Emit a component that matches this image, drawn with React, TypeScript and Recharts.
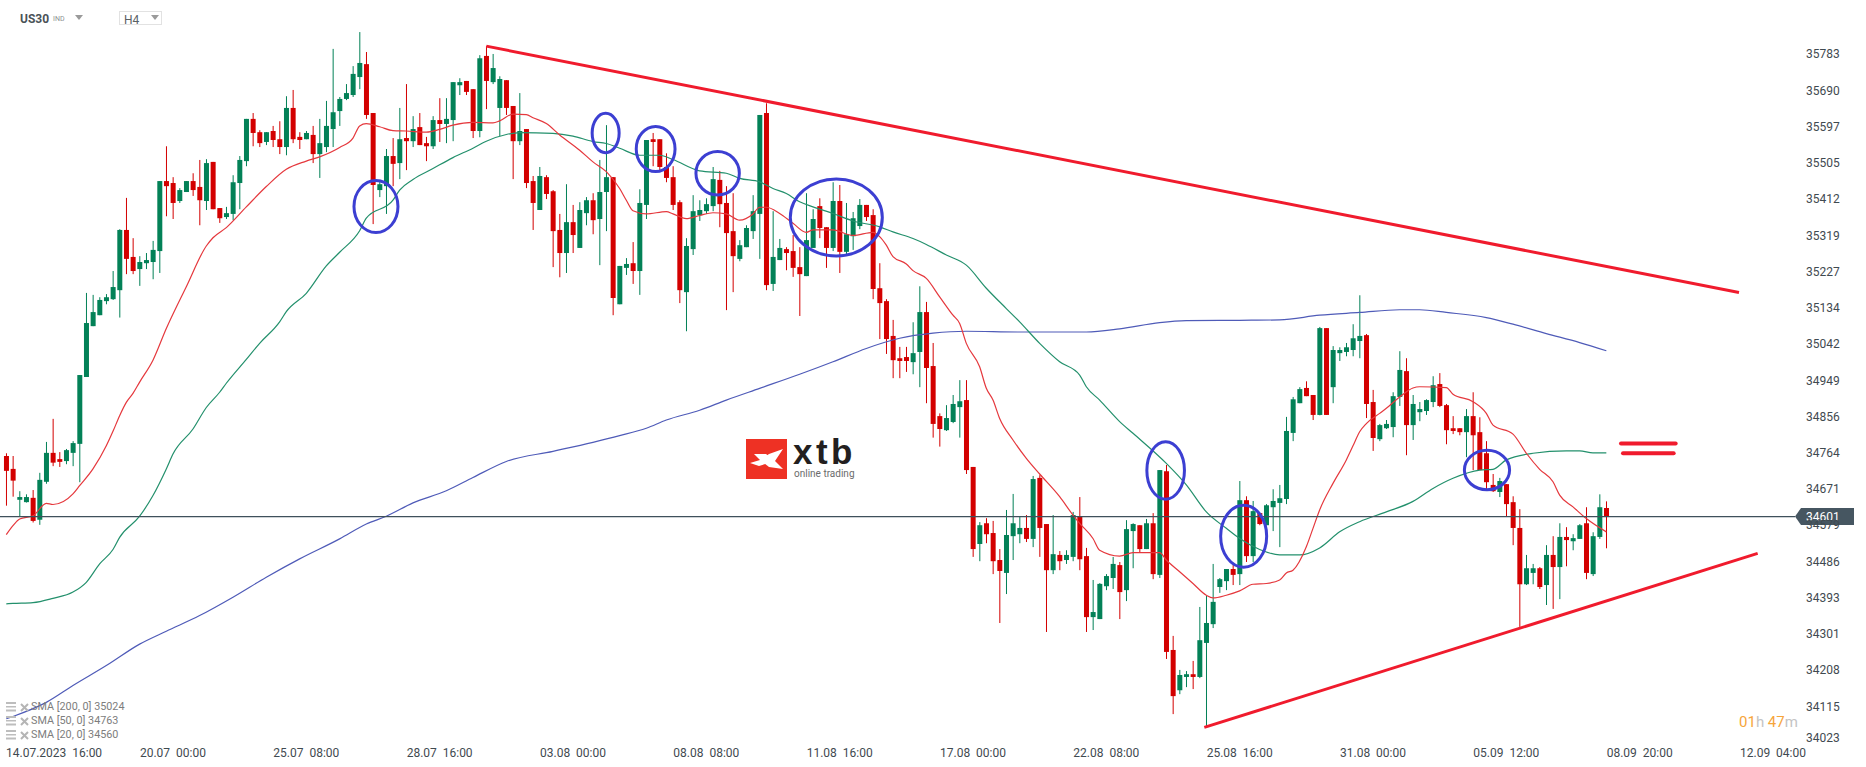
import React from 'react';
import { ComposedChart, Bar, Line, XAxis, YAxis, ReferenceLine, ReferenceDot } from 'recharts';

const opens = [
  34756, 34723, 34644, 34638, 34649, 34593, 34690, 34764, 34748, 34743, 34764, 34787, 34958, 35088, 35116, 35152, 35157, 35180, 35334, 35265,
  35234, 35249, 35252, 35280, 35459, 35454, 35408, 35431, 35459, 35444, 35408, 35508, 35390, 35367, 35375, 35454, 35510, 35618, 35584, 35559,
  35587, 35566, 35546, 35646, 35572, 35566, 35577, 35528, 35546, 35592, 35638, 35669, 35679, 35725, 35758, 35633, 35436, 35446, 35523, 35505,
  35569, 35561, 35597, 35556, 35548, 35615, 35605, 35615, 35704, 35715, 35694, 35587, 35779, 35712, 35646, 35717, 35651, 35561, 35592, 35459,
  35385, 35469, 35433, 35334, 35275, 35354, 35288, 35377, 35410, 35362, 35431, 35469, 35144, 35237, 35249, 35229, 35398, 35566, 35566, 35495,
  35469, 35405, 35175, 35285, 35372, 35382, 35395, 35462, 35403, 35331, 35260, 35290, 35331, 35375, 35633, 35196, 35257, 35285, 35280, 35239,
  35216, 35288, 35395, 35341, 35288, 35408, 35278, 35318, 35344, 35398, 35372, 35185, 35152, 35063, 35006, 35009, 34996, 35022, 35124, 34986,
  34858, 34822, 34843, 34881, 34899, 34728, 34531, 34584, 34559, 34490, 34457, 34551, 34556, 34572, 34544, 34700, 34582, 34464, 34503, 34490,
  34498, 34600, 34500, 34344, 34339, 34423, 34444, 34477, 34413, 34564, 34579, 34518, 34584, 34452, 34717, 34260, 34157, 34191, 34198, 34191,
  34278, 34326, 34421, 34436, 34467, 34454, 34643, 34500, 34610, 34579, 34625, 34636, 34646, 34815, 34891, 34930, 34912, 34861, 35083, 34932,
  35019, 35022, 35027, 35050, 35065, 34894, 34799, 34827, 34830, 34907, 34973, 34835, 34868, 34871, 34894, 34940, 34886, 34827, 34827, 34817,
  34858, 34817, 34763, 34682, 34664, 34684, 34638, 34572, 34428, 34457, 34469, 34426, 34503, 34472, 34549, 34538, 34544, 34584, 34454, 34549,
  34623,
];
const highs = [
  34763, 34756, 34666, 34658, 34669, 34713, 34792, 34851, 34766, 34774, 34794, 34963, 35173, 35168, 35162, 35170, 35229, 35336, 35416, 35313,
  35267, 35275, 35306, 35459, 35548, 35469, 35441, 35459, 35479, 35513, 35515, 35508, 35390, 35393, 35474, 35523, 35618, 35633, 35589, 35584,
  35600, 35612, 35676, 35692, 35584, 35587, 35600, 35618, 35664, 35797, 35674, 35707, 35753, 35840, 35789, 35633, 35462, 35541, 35569, 35646,
  35707, 35625, 35633, 35572, 35625, 35671, 35671, 35712, 35722, 35715, 35694, 35781, 35804, 35784, 35727, 35717, 35651, 35684, 35592, 35472,
  35495, 35474, 35436, 35375, 35451, 35398, 35405, 35418, 35428, 35513, 35602, 35469, 35242, 35262, 35303, 35438, 35564, 35582, 35566, 35530,
  35497, 35410, 35313, 35423, 35410, 35415, 35495, 35485, 35446, 35428, 35308, 35346, 35423, 35628, 35658, 35382, 35311, 35290, 35321, 35290,
  35428, 35387, 35415, 35341, 35456, 35449, 35403, 35380, 35413, 35398, 35387, 35249, 35157, 35104, 35035, 35035, 35098, 35190, 35150, 35045,
  34865, 34886, 34912, 34950, 34950, 34728, 34587, 34597, 34590, 34518, 34618, 34659, 34600, 34605, 34705, 34707, 34582, 34605, 34513, 34515,
  34613, 34651, 34521, 34439, 34431, 34454, 34498, 34485, 34592, 34584, 34579, 34595, 34610, 34720, 34733, 34296, 34209, 34206, 34232, 34370,
  34398, 34480, 34444, 34467, 34477, 34692, 34653, 34641, 34610, 34633, 34671, 34682, 34856, 34907, 34932, 34947, 34912, 35086, 35083, 35037,
  35034, 35045, 35093, 35167, 35068, 34925, 34838, 34848, 34919, 35024, 35006, 34912, 34894, 34901, 34960, 34968, 34889, 34858, 34827, 34876,
  34919, 34855, 34794, 34710, 34700, 34684, 34653, 34620, 34503, 34480, 34472, 34528, 34551, 34584, 34574, 34556, 34582, 34625, 34561, 34658,
  34640,
];
const lows = [
  34629, 34652, 34602, 34637, 34586, 34580, 34685, 34730, 34728, 34735, 34730, 34689, 34958, 35088, 35116, 35144, 35155, 35110, 35221, 35221,
  35191, 35234, 35208, 35224, 35369, 35362, 35403, 35431, 35421, 35346, 35385, 35387, 35352, 35362, 35359, 35387, 35497, 35548, 35546, 35551,
  35546, 35528, 35525, 35556, 35541, 35566, 35505, 35467, 35533, 35546, 35600, 35666, 35674, 35694, 35618, 35349, 35418, 35375, 35446, 35464,
  35487, 35546, 35551, 35510, 35541, 35559, 35556, 35561, 35679, 35679, 35569, 35571, 35643, 35707, 35574, 35628, 35464, 35551, 35441, 35334,
  35385, 35413, 35239, 35213, 35224, 35275, 35288, 35346, 35323, 35244, 35331, 35116, 35144, 35219, 35196, 35168, 35362, 35497, 35487, 35456,
  35385, 35147, 35075, 35270, 35357, 35375, 35382, 35341, 35129, 35175, 35254, 35290, 35311, 35260, 35180, 35178, 35257, 35231, 35214, 35114,
  35216, 35288, 35313, 35237, 35280, 35224, 35272, 35283, 35336, 35357, 35157, 35055, 35017, 34955, 34955, 34971, 34965, 34932, 34891, 34803,
  34780, 34820, 34840, 34803, 34710, 34498, 34487, 34533, 34454, 34329, 34403, 34490, 34533, 34536, 34523, 34498, 34306, 34454, 34464, 34480,
  34487, 34464, 34306, 34311, 34339, 34413, 34416, 34339, 34385, 34469, 34510, 34518, 34441, 34444, 34237, 34096, 34147, 34165, 34160, 34188,
  34064, 34316, 34406, 34413, 34426, 34426, 34485, 34485, 34579, 34579, 34564, 34523, 34633, 34794, 34891, 34909, 34848, 34860, 34861, 34891,
  34999, 35011, 35011, 35006, 34853, 34769, 34794, 34825, 34804, 34884, 34758, 34797, 34845, 34861, 34881, 34881, 34786, 34812, 34809, 34753,
  34720, 34720, 34669, 34664, 34651, 34602, 34528, 34319, 34426, 34428, 34416, 34375, 34365, 34390, 34474, 34515, 34544, 34441, 34449, 34544,
  34520,
];
const closes = [
  34718, 34693, 34651, 34651, 34590, 34695, 34764, 34739, 34741, 34771, 34789, 34963, 35096, 35124, 35155, 35162, 35188, 35334, 35260, 35229,
  35252, 35257, 35283, 35459, 35446, 35403, 35436, 35459, 35436, 35410, 35505, 35387, 35364, 35377, 35456, 35513, 35618, 35582, 35556, 35584,
  35564, 35546, 35646, 35566, 35564, 35582, 35528, 35556, 35600, 35635, 35669, 35684, 35733, 35761, 35628, 35449, 35451, 35523, 35503, 35566,
  35561, 35592, 35551, 35548, 35615, 35605, 35618, 35712, 35712, 35687, 35587, 35773, 35715, 35748, 35720, 35646, 35561, 35587, 35454, 35403,
  35472, 35426, 35331, 35275, 35354, 35321, 35385, 35410, 35359, 35431, 35469, 35160, 35242, 35247, 35229, 35403, 35564, 35559, 35495, 35467,
  35398, 35180, 35293, 35382, 35385, 35400, 35464, 35400, 35326, 35267, 35295, 35339, 35382, 35628, 35193, 35265, 35288, 35275, 35237, 35221,
  35308, 35362, 35339, 35288, 35408, 35278, 35323, 35364, 35398, 35367, 35183, 35147, 35055, 35001, 34999, 34999, 35019, 35124, 34981, 34838,
  34825, 34853, 34889, 34896, 34720, 34518, 34579, 34556, 34487, 34462, 34554, 34584, 34572, 34544, 34697, 34572, 34464, 34505, 34487, 34503,
  34605, 34492, 34344, 34357, 34429, 34449, 34480, 34408, 34569, 34582, 34518, 34584, 34454, 34720, 34255, 34142, 34196, 34198, 34191, 34285,
  34329, 34383, 34441, 34467, 34452, 34643, 34500, 34615, 34582, 34630, 34641, 34648, 34820, 34901, 34927, 34909, 34861, 35083, 34861, 35027,
  35027, 35034, 35057, 35063, 34889, 34802, 34835, 34838, 34909, 34976, 34835, 34889, 34876, 34899, 34937, 34884, 34822, 34820, 34817, 34858,
  34809, 34720, 34689, 34666, 34692, 34633, 34572, 34428, 34469, 34469, 34421, 34503, 34472, 34549, 34541, 34546, 34579, 34457, 34551, 34625,
  34601,
];

// moving averages at [candle index, value]
const sma20Points = [
  [0, 34555], [1, 34578], [2, 34595], [4, 34603], [6, 34635], [7, 34632], [10, 34659], [11, 34680], [13, 34723], [15, 34782], [16, 34819], [17, 34859], [18, 34893],
  [19, 34916], [20, 34945], [22, 35001], [24, 35082], [27, 35189], [30, 35293], [31, 35314], [33, 35340], [36, 35393], [39, 35445], [42, 35489], [45, 35510],
  [47, 35521], [50, 35545], [52, 35569], [53, 35600], [54, 35606], [56, 35598], [58, 35588], [60, 35587], [63, 35584], [65, 35591], [67, 35602], [70, 35609],
  [73, 35608], [74, 35613], [76, 35630], [78, 35629], [79, 35621], [81, 35606], [83, 35577], [86, 35538], [88, 35508], [90, 35483], [92, 35440], [93, 35410],
  [94, 35383], [96, 35375], [99, 35381], [100, 35375], [102, 35363], [104, 35371], [106, 35378], [108, 35375], [110, 35359], [112, 35375], [113, 35392], [114, 35392],
  [116, 35376], [118, 35351], [120, 35328], [121, 35334], [124, 35334], [127, 35320], [130, 35328], [131, 35317], [132, 35295], [133, 35266], [135, 35247], [136, 35230],
  [138, 35210], [140, 35163], [142, 35116], [143, 35095], [144, 35044], [146, 34984], [147, 34929], [148, 34899], [149, 34852], [151, 34797], [153, 34750], [155, 34710],
  [158, 34652], [160, 34605], [161, 34584], [163, 34545], [164, 34515], [167, 34500], [169, 34509], [172, 34509], [173, 34509], [174, 34490], [176, 34460], [178, 34430],
  [180, 34400], [181, 34393], [183, 34400], [185, 34411], [187, 34428], [189, 34430], [191, 34439], [192, 34457], [193, 34464], [195, 34524], [196, 34571], [197, 34618],
  [199, 34686], [201, 34746], [202, 34782], [203, 34818], [204, 34839], [206, 34865], [207, 34878], [209, 34907], [211, 34930], [212, 34933], [216, 34931], [217, 34914],
  [220, 34895], [222, 34865], [223, 34835], [226, 34812], [228, 34763], [230, 34722], [232, 34690], [233, 34656], [235, 34626], [237, 34596], [240, 34562],
];
const sma50Points = [
  [0, 34378], [1, 34379], [4, 34381], [7, 34392], [10, 34408], [12, 34433], [14, 34480], [16, 34517], [17, 34548], [20, 34602], [22, 34655], [24, 34723], [25, 34761],
  [28, 34825], [30, 34880], [32, 34919], [33, 34942], [36, 35003], [38, 35044], [41, 35099], [42, 35125], [45, 35172], [48, 35242], [50, 35277], [53, 35332],
  [54, 35364], [58, 35410], [59, 35436], [61, 35463], [64, 35491], [67, 35519], [70, 35543], [72, 35561], [75, 35578], [77, 35583], [82, 35581], [85, 35574],
  [88, 35560], [90, 35555], [92, 35543], [95, 35525], [98, 35525], [100, 35514], [104, 35485], [108, 35479], [110, 35466], [113, 35457], [115, 35440], [117, 35427],
  [119, 35406], [121, 35393], [124, 35376], [127, 35357], [131, 35342], [133, 35329], [136, 35312], [138, 35297], [141, 35270], [144, 35244], [147, 35185], [150, 35133],
  [152, 35099], [155, 35044], [158, 34997], [161, 34963], [162, 34933], [164, 34899], [167, 34844], [169, 34814], [174, 34737], [177, 34682], [180, 34613], [183, 34571],
  [185, 34545], [188, 34517], [191, 34503], [194, 34503], [197, 34521], [200, 34562], [203, 34588], [207, 34613], [211, 34640], [214, 34673], [217, 34699], [221, 34720],
  [223, 34722], [225, 34746], [229, 34763], [234, 34769], [236, 34769], [238, 34764], [240, 34764],
];
const sma200Points = [
  [0, 34084], [1, 34090], [6, 34126], [10, 34169], [15, 34220], [20, 34275], [24, 34308], [29, 34348], [34, 34395], [39, 34446], [44, 34493], [50, 34544], [54, 34582],
  [57, 34602], [61, 34636], [66, 34667], [70, 34701], [75, 34742], [82, 34768], [88, 34791], [92, 34808], [96, 34827], [99, 34848], [104, 34873], [108, 34899],
  [113, 34929], [119, 34965], [124, 34997], [129, 35031], [134, 35057], [139, 35070], [144, 35075], [152, 35073], [162, 35073], [167, 35081], [173, 35097], [177, 35102],
  [185, 35103], [191, 35104], [197, 35116], [203, 35123], [209, 35130], [212, 35130], [216, 35123], [222, 35110], [226, 35093], [231, 35069], [236, 35046], [240, 35025],
];

const priceTicks = [35783, 35690, 35597, 35505, 35412, 35319, 35227, 35134, 35042, 34949, 34856, 34764, 34671, 34579, 34486, 34393, 34301, 34208, 34115, 34023];
const timeTicks = [5, 25, 45, 65, 85, 105, 125, 145, 165, 185, 205, 225, 245, 265];
const timeLabels = [
  '14.07.2023  16:00', '20.07  00:00', '25.07  08:00', '28.07  16:00', '03.08  00:00', '08.08  08:00', '11.08  16:00',
  '17.08  00:00', '22.08  08:00', '25.08  16:00', '31.08  00:00', '05.09  12:00', '08.09  20:00', '12.09  04:00',
];

const lastPrice = 34601;
const resistance = [{ x: 72, y: 35804 }, { x: 259.9, y: 35174 }];
const support = [{ x: 179.7, y: 34062 }, { x: 262.7, y: 34507 }];
const equalTop = [{ x: 242.2, y: 34788 }, { x: 250.4, y: 34788 }];
const equalBottom = [{ x: 242.5, y: 34763 }, { x: 250.1, y: 34763 }];
// blue hand-drawn circles: index, price, radius in px
const circles = [
  [55.45, 35394, 22, 26], [89.9, 35582, 13.5, 19.7], [97.4, 35541, 19.4, 22.5], [106.7, 35479, 21.7, 21.7],
  [124.5, 35366, 46, 38.5], [173.9, 34719, 18.8, 28.7], [185.6, 34551, 23, 31], [222.1, 34720, 22.6, 19.7],
];
const legendRows = ['SMA [200, 0] 35024', 'SMA [50, 0] 34763', 'SMA [20, 0] 34560'];

const lookup = (points: number[][]) => new Map(points.map((p) => [p[0], p[1]]));
const sma20 = lookup(sma20Points);
const sma50 = lookup(sma50Points);
const sma200 = lookup(sma200Points);

const rows = opens.map((open, i) => ({
  i,
  open,
  close: closes[i],
  high: highs[i],
  low: lows[i],
  range: [lows[i], highs[i]],
  sma20: sma20.get(i),
  sma50: sma50.get(i),
  sma200: sma200.get(i),
}));

const WIDTH = 1866;
const AXIS_W = 71;
const UP = '#038157';
const DOWN = '#d30000';
const TREND = '#f01b2d';
const CIRCLE = '#3c3fd2';
const FONT = 'Roboto, sans-serif';

const Candle = (props: any) => {
  const { x, y, width, height, payload } = props;
  const perUnit = height / (payload.high - payload.low || 1);
  const top = y + (payload.high - Math.max(payload.open, payload.close)) * perUnit;
  const bodyH = Math.max(Math.abs(payload.open - payload.close) * perUnit, 1);
  const color = payload.close >= payload.open ? UP : DOWN;
  return (
    <g>
      <rect x={x + width / 2 - 0.5} y={y} width={1} height={height} fill={color} />
      <rect x={x} y={top} width={width} height={bodyH} fill={color} />
    </g>
  );
};

const PriceTick = ({ y, payload }: any) => (
  <text x={WIDTH - AXIS_W + 11} y={payload.value === 34023 ? y - 5 : y} dy={4} textAnchor="start" fontSize={12} fontFamily={FONT} fill="#3f4a50">
    {payload.value}
  </text>
);

const TimeTick = ({ x, y, payload, index }: any) => (
  <text
    x={index === 0 ? 6 : x}
    y={y}
    dy={10}
    textAnchor={index === 0 ? 'start' : 'middle'}
    fontSize={12}
    fontFamily={FONT}
    fill="#3f4a50"
    style={{ whiteSpace: 'pre' }}
  >
    {timeLabels[timeTicks.indexOf(payload.value)]}
  </text>
);

const Circle = ({ cx, cy, rx, ry }: any) => (
  <ellipse cx={cx} cy={cy} rx={rx} ry={ry} fill="none" stroke={CIRCLE} strokeWidth={3} />
);

const PriceTag = ({ cx, cy }: any) => (
  <g>
    <polygon
      points={`${cx},${cy} ${cx + 6},${cy - 8.5} ${cx + 59},${cy - 8.5} ${cx + 59},${cy + 8.5} ${cx + 6},${cy + 8.5}`}
      fill="#465661"
    />
    <text x={cx + 11} y={cy + 4.5} fontSize={12} fontFamily={FONT} fill="#ffffff">
      {lastPrice}
    </text>
  </g>
);

const abs = (left: number, top: number, extra: React.CSSProperties = {}): React.CSSProperties => ({
  position: 'absolute',
  left,
  top,
  fontFamily: FONT,
  whiteSpace: 'pre',
  lineHeight: 1,
  ...extra,
});

const Triangle = ({ left, top }: { left: number; top: number }) => (
  <div
    style={{
      position: 'absolute',
      left,
      top,
      width: 0,
      height: 0,
      borderLeft: '4px solid transparent',
      borderRight: '4px solid transparent',
      borderTop: '5px solid #9a9a9a',
    }}
  />
);

const Header = () => (
  <>
    <div style={abs(20, 13, { fontSize: 12, fontWeight: 700, color: '#4a5257' })}>US30</div>
    <div style={abs(53, 16, { fontSize: 7, color: '#8b8f92' })}>IND</div>
    <Triangle left={75} top={15} />
    <div style={{ position: 'absolute', left: 119, top: 11, width: 43, height: 14, border: '1px solid #e2e2e2', boxSizing: 'border-box' }} />
    <div style={abs(124, 14, { fontSize: 12, color: '#5a6165' })}>H4</div>
    <Triangle left={151} top={15} />
  </>
);

const Logo = () => (
  <>
    <svg style={{ position: 'absolute', left: 746, top: 439 }} width={41} height={40}>
      <rect width={41} height={40} fill="#ee3124" />
      <polygon points="37,10 29,22 13,27 4,24 14,21 23,15" fill="#ffffff" />
      <polygon points="8,15 20,15 29,22 37,30 23,28 14,21" fill="#ffffff" />
    </svg>
    <div style={abs(793, 434, { fontSize: 35, fontWeight: 700, letterSpacing: 3.5, color: '#231f20', fontFamily: 'Liberation Sans, sans-serif' })}>xtb</div>
    <div style={abs(794, 469, { fontSize: 10, color: '#6b6b6b' })}>online trading</div>
  </>
);

const Legend = () => (
  <>
    {legendRows.map((label, k) => {
      const top = 702 + k * 14.2;
      return (
        <React.Fragment key={label}>
          <svg style={{ position: 'absolute', left: 6, top }} width={24} height={11}>
            <rect x={0} y={0} width={10} height={2} fill="#bdbdbd" />
            <rect x={0} y={4} width={10} height={1.5} fill="#bdbdbd" />
            <rect x={0} y={7.5} width={10} height={2} fill="#bdbdbd" />
            <path d="M15 2 L22 9 M22 2 L15 9" stroke="#b5b5b5" strokeWidth={2} />
          </svg>
          <div style={abs(31, top, { fontSize: 10.8, color: '#7d7d7d' })}>{label}</div>
        </React.Fragment>
      );
    })}
  </>
);

const Timer = () => (
  <div style={abs(1739, 715, { fontSize: 15 })}>
    <span style={{ color: '#f6a53b' }}>01</span>
    <span style={{ color: '#c4c4c4' }}>h </span>
    <span style={{ color: '#f6a53b' }}>47</span>
    <span style={{ color: '#c4c4c4' }}>m</span>
  </div>
);

export default function App() {
  return (
    <div style={{ position: 'absolute', left: 0, top: 0, width: WIDTH, height: 767, background: '#ffffff', overflow: 'hidden' }}>
      <ComposedChart width={WIDTH} height={767} data={rows} margin={{ top: 0, right: 0, bottom: 0, left: 0 }}>
        <XAxis
          dataKey="i"
          type="number"
          domain={[-0.945, 268.3]}
          ticks={timeTicks}
          interval={0}
          height={22}
          tick={<TimeTick />}
          tickLine={false}
          tickSize={0}
          axisLine={false}
        />
        <YAxis
          orientation="right"
          type="number"
          domain={[34017, 35922]}
          ticks={priceTicks}
          interval={0}
          width={AXIS_W}
          tick={<PriceTick />}
          tickLine={false}
          tickSize={0}
          axisLine={false}
        />
        <Bar dataKey="range" barSize={5} shape={<Candle />} isAnimationActive={false} />
        <Line dataKey="sma200" type="monotone" stroke="#4f5bb8" strokeWidth={1.2} dot={false} activeDot={false} connectNulls isAnimationActive={false} />
        <Line dataKey="sma50" type="monotone" stroke="#23906c" strokeWidth={1.2} dot={false} activeDot={false} connectNulls isAnimationActive={false} />
        <Line dataKey="sma20" type="monotone" stroke="#e5383d" strokeWidth={1.2} dot={false} activeDot={false} connectNulls isAnimationActive={false} />
        <ReferenceLine y={lastPrice} stroke="#3f505b" strokeWidth={1.2} />
        <ReferenceDot x={268.3} y={lastPrice} r={1} ifOverflow="visible" shape={<PriceTag />} />
        <ReferenceLine segment={resistance} stroke={TREND} strokeWidth={3} />
        <ReferenceLine segment={support} stroke={TREND} strokeWidth={3} />
        <ReferenceLine segment={equalTop} stroke={TREND} strokeWidth={4} strokeLinecap="round" />
        <ReferenceLine segment={equalBottom} stroke={TREND} strokeWidth={4} strokeLinecap="round" />
        {circles.map(([x, y, rx, ry]) => (
          <ReferenceDot key={x} x={x} y={y} r={1} shape={<Circle rx={rx} ry={ry} />} />
        ))}
      </ComposedChart>
      <Header />
      <Logo />
      <Legend />
      <Timer />
    </div>
  );
}
